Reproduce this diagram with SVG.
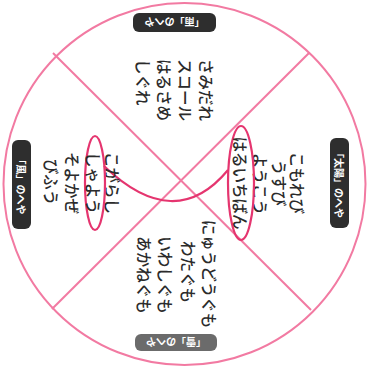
<svg xmlns="http://www.w3.org/2000/svg" width="369" height="368" viewBox="0 0 369 368">
<style>
.w{font-family:"Noto Sans CJK JP","Noto Sans CJK SC",sans-serif;font-size:15.5px;font-weight:500;fill:#2b2b2b;dominant-baseline:central}
.m{text-anchor:middle}
.lb{font-family:"Noto Sans CJK JP","Noto Sans CJK SC",sans-serif;font-size:10px;font-weight:bold;fill:#fff;text-anchor:middle;dominant-baseline:central}
.pk{fill:none;stroke:#f27aa2;stroke-width:2}
.el{fill:none;stroke:#e5356f;stroke-width:2.2}
</style>
<rect width="369" height="368" fill="#fff"/>
<g id="frame">
<circle cx="184.5" cy="184" r="181" class="pk" stroke-width="2.4"/>
</g>
<g id="connectors">
<line x1="53" y1="53" x2="311" y2="310" class="pk"/>
<line x1="309" y1="53" x2="52" y2="309" class="pk"/>
<path d="M104,166 Q175,234 228,170" class="el"/>
</g>
<g id="room-rain">
<rect x="133" y="13" width="83" height="19" rx="6" fill="#2e2e2e"/>
<text class="lb" transform="translate(174.5,22.5) rotate(180)">「雨」のへや</text>
<text class="w" transform="translate(207,59) rotate(90)">さみだれ</text>
<text class="w" transform="translate(186,59) rotate(90)">スコール</text>
<text class="w" transform="translate(165,59) rotate(90)">はるさめ</text>
<text class="w" transform="translate(144,59) rotate(90)">しぐれ</text>
</g>
<g id="room-sun">
<rect x="330" y="138" width="19" height="90" rx="6" fill="#2e2e2e"/>
<text class="lb" transform="translate(339.5,183) rotate(90)">「太陽」のへや</text>
<text class="w m" transform="translate(298,183) rotate(90)">こもれび</text>
<text class="w m" transform="translate(280,183) rotate(90)">うすび</text>
<text class="w m" transform="translate(261,184) rotate(90)">ようこう</text>
<ellipse cx="241" cy="183" rx="13" ry="57" class="el"/>
<text class="w m" transform="translate(241,183) rotate(90)">はるいちばん</text>
</g>
<g id="room-wind">
<rect x="12" y="140" width="19" height="89" rx="6" fill="#2e2e2e"/>
<text class="lb" transform="translate(21.5,184.5) rotate(90)">「風」のへや</text>
<text class="w m" transform="translate(113,183) rotate(90)">こがらし</text>
<ellipse cx="95" cy="183" rx="10" ry="47" class="el"/>
<text class="w m" transform="translate(94,183) rotate(90)">しゃよう</text>
<text class="w m" transform="translate(73,183) rotate(90)">そよかぜ</text>
<text class="w m" transform="translate(52,182) rotate(90)">びふう</text>
</g>
<g id="room-snow">
<rect x="135" y="334" width="82" height="17" rx="6" fill="#6b6b6b"/>
<text class="lb" transform="translate(176,342.5) rotate(180)">「雪」のへや</text>
<text class="w m" transform="translate(210,274) rotate(90)">にゅうどうぐも</text>
<text class="w m" transform="translate(189,272) rotate(90)">わたぐも</text>
<text class="w m" transform="translate(166,275) rotate(90)">いわしぐも</text>
<text class="w m" transform="translate(145,275) rotate(90)">あかねぐも</text>
</g>
</svg>
